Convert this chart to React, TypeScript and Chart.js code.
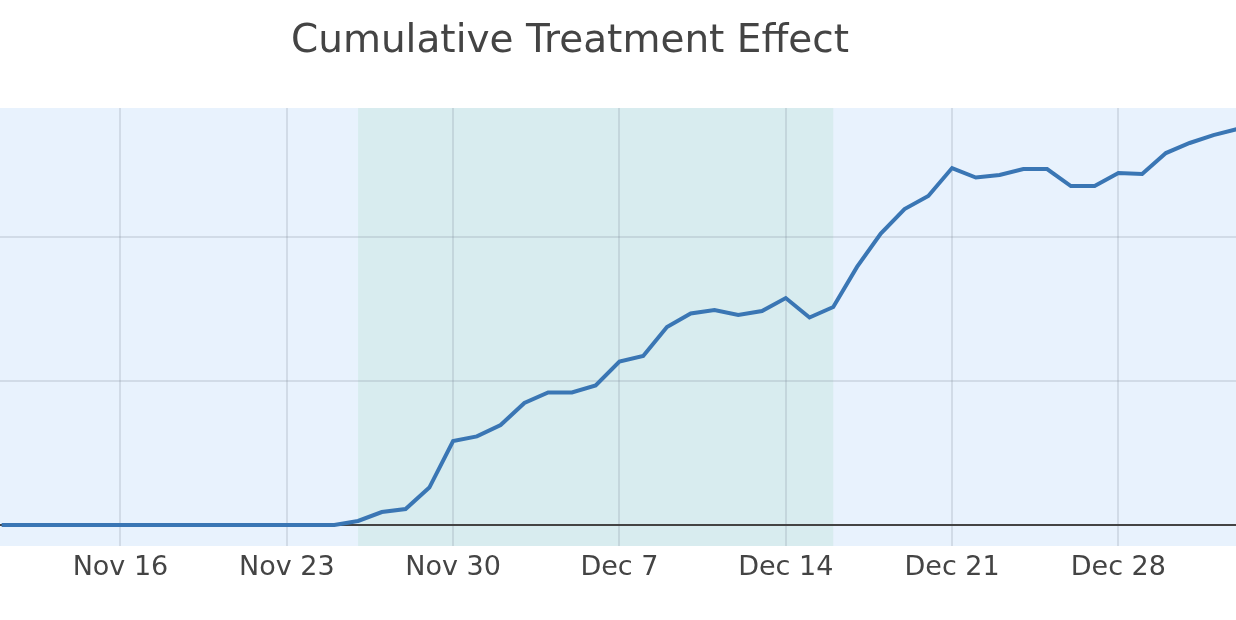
import React, { useEffect, useRef } from "react";
import { Chart, registerables } from "chart.js";

Chart.register(...registerables);

const dayLabels: string[] = [
  "Nov 11","Nov 12","Nov 13","Nov 14","Nov 15","Nov 16","Nov 17","Nov 18","Nov 19","Nov 20",
  "Nov 21","Nov 22","Nov 23","Nov 24","Nov 25","Nov 26","Nov 27","Nov 28","Nov 29","Nov 30",
  "Dec 1","Dec 2","Dec 3","Dec 4","Dec 5","Dec 6","Dec 7","Dec 8","Dec 9","Dec 10",
  "Dec 11","Dec 12","Dec 13","Dec 14","Dec 15","Dec 16","Dec 17","Dec 18","Dec 19","Dec 20",
  "Dec 21","Dec 22","Dec 23","Dec 24","Dec 25","Dec 26","Dec 27","Dec 28","Dec 29","Dec 30",
  "Dec 31","Jan 1","Jan 2",
];
const effectValues: number[] = [
  0, 0, 0, 0, 0, 0, 0, 0, 0, 0,
  0, 0, 0, 0, 0, 2.8, 9.0, 11.1, 26, 58.3,
  61.5, 69.4, 84.7, 92, 92, 96.9, 113.5, 117.4, 137.5, 146.9,
  149.3, 145.8, 148.6, 157.6, 144.1, 151.4, 179.2, 202.4, 219.4, 228.5,
  247.9, 241.3, 243.1, 247.2, 247.2, 235.4, 235.4, 244.4, 243.8, 258.3,
  265.3, 270.8, 275,
];
const tickDays: string[] = ["Nov 16", "Nov 23", "Nov 30", "Dec 7", "Dec 14", "Dec 21", "Dec 28"];
const yGridValues: number[] = [0, 100, 200];
const treatmentStart = "Nov 26";
const treatmentEnd = "Dec 16";
const titleText = "Cumulative Treatment Effect";

const dayIndex = (label: string) => dayLabels.indexOf(label);

export default function App() {
  const ref = useRef<HTMLCanvasElement | null>(null);

  useEffect(() => {
    document.body.style.margin = "0";
    const canvas = ref.current;
    if (!canvas) return;

    const bgPlugin = {
      id: "bgShade",
      beforeDraw(chart: any) {
        const { ctx, chartArea, scales } = chart;
        ctx.save();
        ctx.fillStyle = "#e8f2fd";
        ctx.fillRect(chartArea.left, chartArea.top, chartArea.right - chartArea.left, chartArea.bottom - chartArea.top);
        const x0 = scales.x.getPixelForValue(dayIndex(treatmentStart));
        const x1 = scales.x.getPixelForValue(dayIndex(treatmentEnd));
        ctx.fillStyle = "#d8ecef";
        ctx.fillRect(x0, chartArea.top, x1 - x0, chartArea.bottom - chartArea.top);
        ctx.restore();
      },
    };

    const titlePlugin = {
      id: "customTitle",
      afterDraw(chart: any) {
        const { ctx } = chart;
        ctx.save();
        ctx.font = '39px "DejaVu Sans"';
        ctx.fillStyle = "#444444";
        ctx.textAlign = "center";
        ctx.textBaseline = "alphabetic";
        ctx.fillText(titleText, 570, 52);
        ctx.restore();
      },
    };

    const chart = new Chart(canvas, {
      type: "line",
      data: {
        datasets: [
          {
            label: "Cumulative effect",
            data: effectValues.map((v, i) => ({ x: i, y: v })),
            borderColor: "#3a76b4",
            borderWidth: 4,
            pointRadius: 0,
            tension: 0,
            fill: false,
          },
        ],
      },
      options: {
        animation: false,
        responsive: false,
        maintainAspectRatio: false,
        layout: { padding: { top: 108, left: 0, right: 0, bottom: 0 } },
        plugins: {
          legend: { display: false },
          title: { display: false },
          tooltip: { enabled: false },
        },
        scales: {
          x: {
            type: "linear",
            min: -0.07,
            max: 51.95,
            afterBuildTicks(scale: any) {
              scale.ticks = tickDays.map((d) => ({ value: dayIndex(d) }));
            },
            afterFit(scale: any) {
              scale.height = 74;
            },
            ticks: {
              autoSkip: false,
              maxRotation: 0,
              padding: 6,
              color: "#444444",
              font: { family: "DejaVu Sans", size: 27 },
              callback: (v: any) => dayLabels[Math.round(Number(v))] ?? "",
            },
            grid: { color: "rgba(120,130,145,0.2)", lineWidth: 2, drawTicks: false },
            border: { display: false },
          },
          y: {
            type: "linear",
            min: -14.6,
            max: 289.6,
            afterBuildTicks(scale: any) {
              scale.ticks = yGridValues.map((v) => ({ value: v }));
            },
            afterFit(scale: any) {
              scale.width = 0;
            },
            ticks: { display: false },
            grid: {
              drawTicks: false,
              lineWidth: 2,
              color: (c: any) => (c.tick && c.tick.value === 0 ? "#444444" : "rgba(120,130,145,0.2)"),
            },
            border: { display: false },
          },
        },
      },
      plugins: [bgPlugin, titlePlugin],
    });

    return () => chart.destroy();
  }, []);

  return (
    <div style={{ position: "absolute", left: 0, top: 0, width: 1236, height: 620, background: "#ffffff" }}>
      <canvas ref={ref} width={1236} height={620} style={{ width: 1236, height: 620 }} />
    </div>
  );
}
